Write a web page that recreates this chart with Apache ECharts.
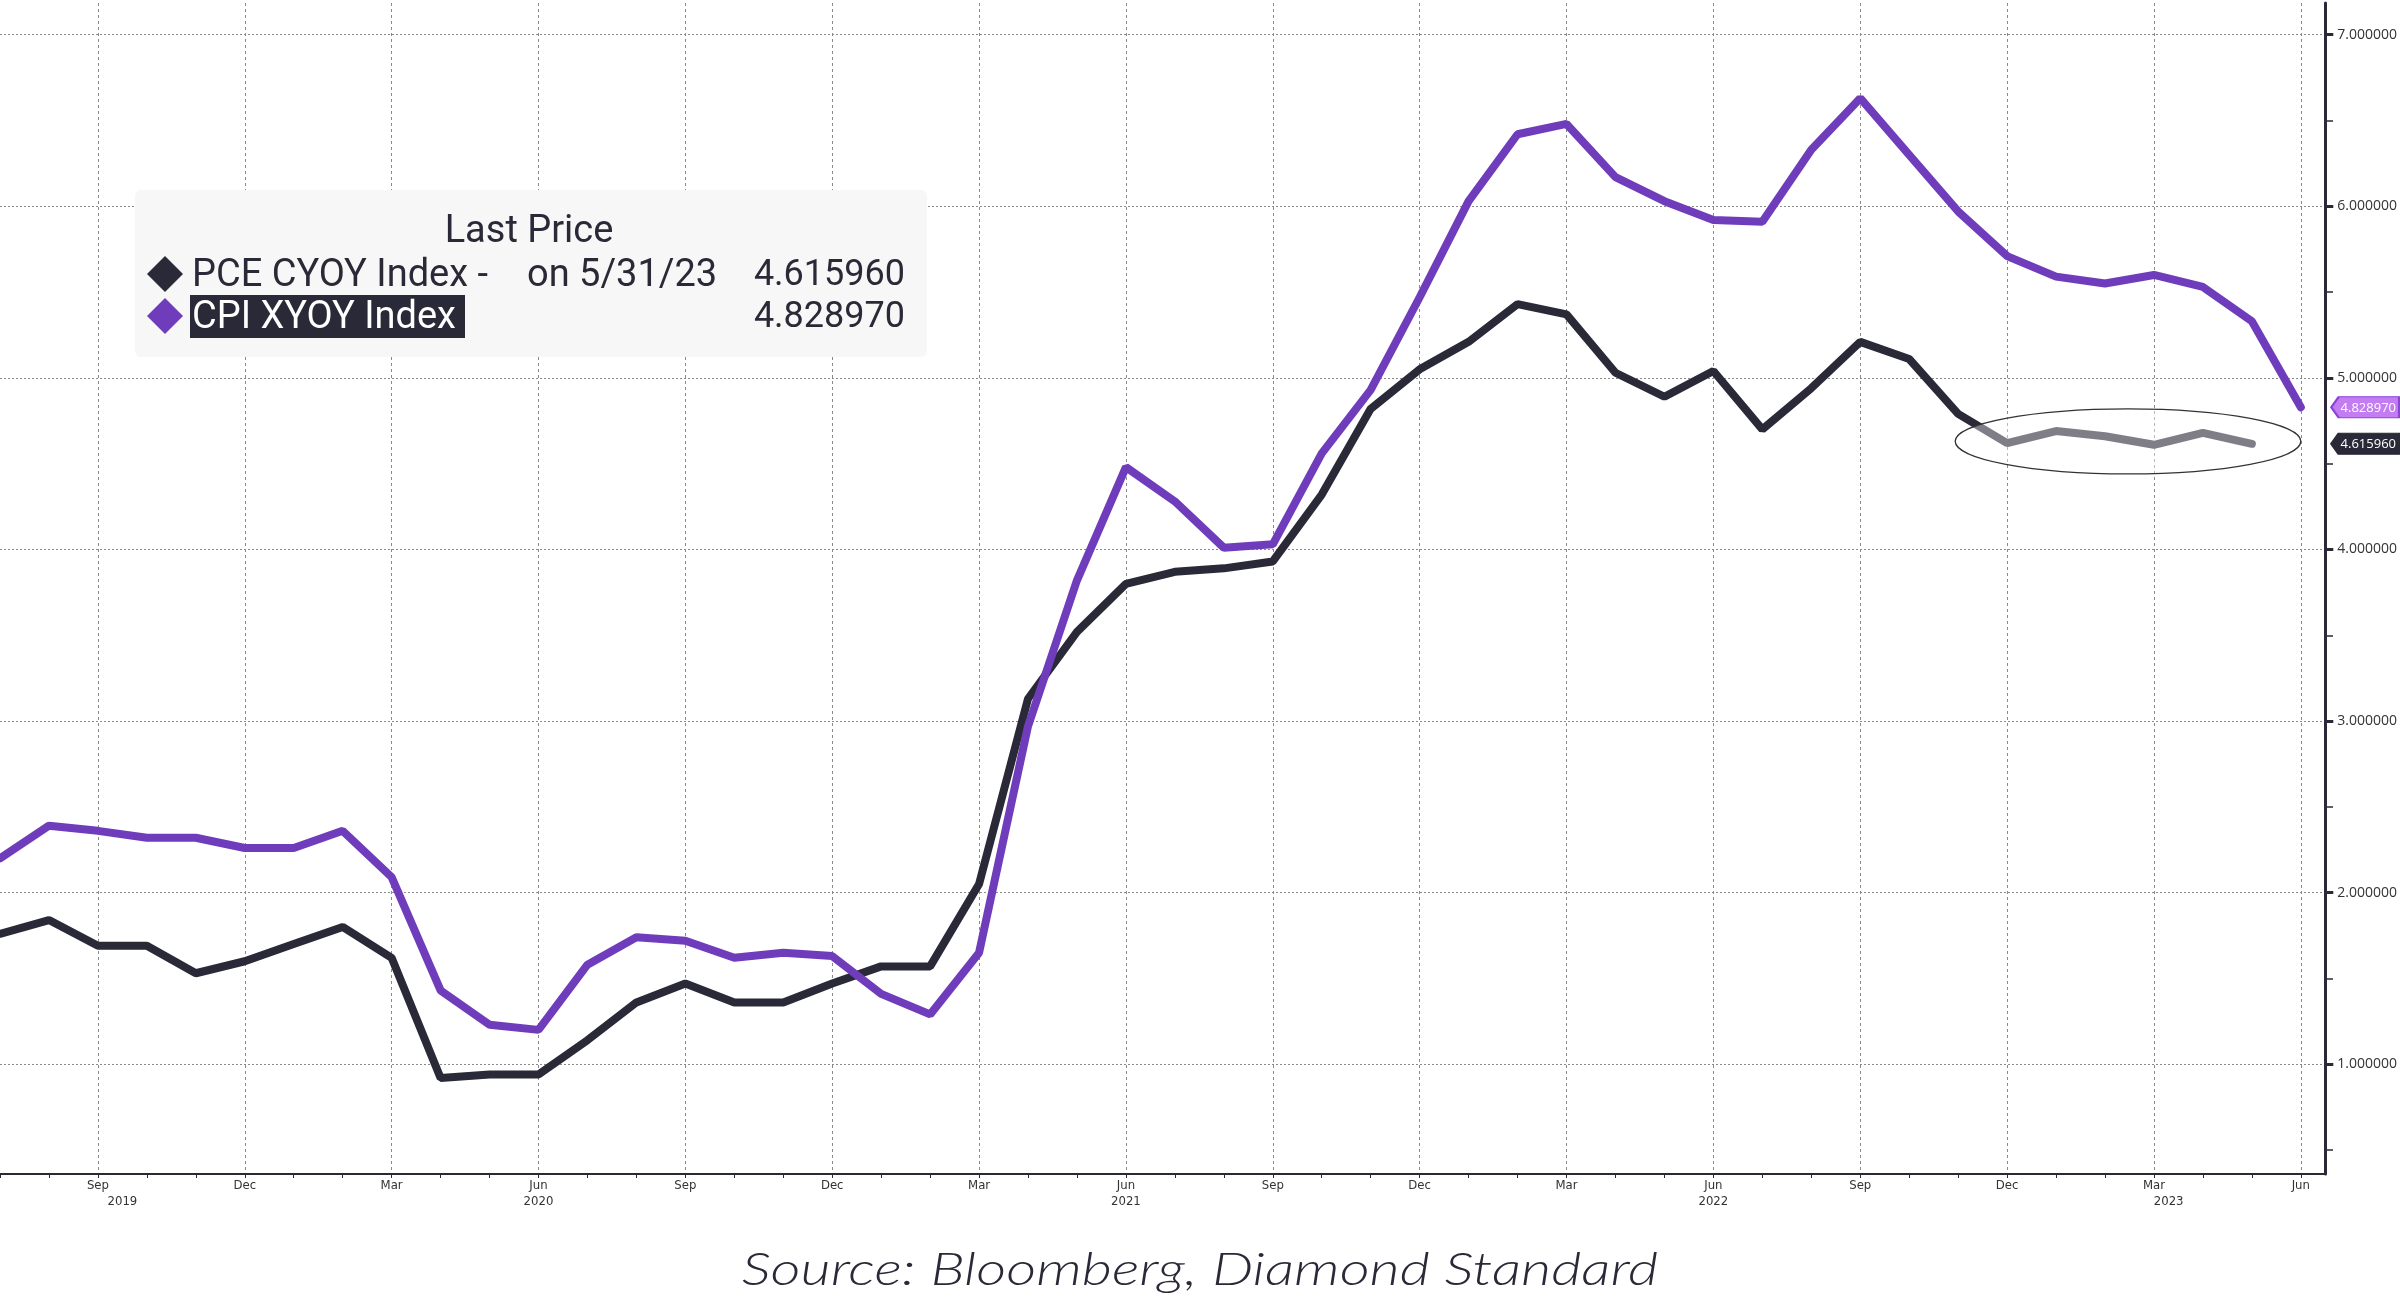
<!DOCTYPE html>
<html><head><meta charset="utf-8">
<script src="https://cdn.jsdelivr.net/npm/echarts@6/dist/echarts.min.js"></script>
<style>html,body{margin:0;padding:0;background:#fff}#c{width:2400px;height:1301px}</style>
</head><body><div id="c"></div>
<script>
// ---- data ----
const months = ['Jul 2019','Aug 2019','Sep 2019','Oct 2019','Nov 2019','Dec 2019',
  'Jan 2020','Feb 2020','Mar 2020','Apr 2020','May 2020','Jun 2020','Jul 2020','Aug 2020','Sep 2020','Oct 2020','Nov 2020','Dec 2020',
  'Jan 2021','Feb 2021','Mar 2021','Apr 2021','May 2021','Jun 2021','Jul 2021','Aug 2021','Sep 2021','Oct 2021','Nov 2021','Dec 2021',
  'Jan 2022','Feb 2022','Mar 2022','Apr 2022','May 2022','Jun 2022','Jul 2022','Aug 2022','Sep 2022','Oct 2022','Nov 2022','Dec 2022',
  'Jan 2023','Feb 2023','Mar 2023','Apr 2023','May 2023','Jun 2023'];
const pce = [1.76,1.84,1.69,1.69,1.53,1.60,1.70,1.80,1.62,0.92,0.94,0.94,1.14,1.36,1.47,1.36,1.36,1.47,1.57,1.57,
  2.05,3.13,3.52,3.80,3.87,3.89,3.93,4.32,4.82,5.05,5.21,5.43,5.37,5.03,4.89,5.04,4.70,4.94,5.21,5.11,
  4.79,4.62,4.69,4.66,4.61,4.68,4.615960];
const cpi = [2.20,2.39,2.36,2.32,2.32,2.26,2.26,2.36,2.09,1.43,1.23,1.20,1.58,1.74,1.72,1.62,1.65,1.63,1.41,1.29,
  1.65,2.97,3.82,4.48,4.28,4.01,4.03,4.56,4.93,5.47,6.03,6.42,6.48,6.17,6.03,5.92,5.91,6.33,6.63,6.30,
  5.97,5.71,5.59,5.55,5.60,5.53,5.33,4.828970];
const yTickValues = [1,2,3,4,5,6,7];
const yMinorValues = [0.5,1.5,2.5,3.5,4.5,5.5,6.5];
const yearLabels = ['2019','2020','2021','2022','2023'];
const yearLabelAt = [2.5,11,23,35,44.3];
const pceName = 'PCE CYOY Index';
const cpiName = 'CPI XYOY Index';
const lastDate = '5/31/23';
const legendTitle = 'Last Price';
const sourceText = 'Source: Bloomberg, Diamond Standard';
// annotation ellipse, in data units
const ellipseCenter = [43.47, 4.63];
const ellipseHalf = [3.53, 0.19];

// ---- derived ----
const quarterIdx = months.map((m,i)=>['Mar','Jun','Sep','Dec'].includes(m.slice(0,3))?i:-1).filter(i=>i>=0);
const monthIdx = months.map((m,i)=>i);
const X_MIN = 0, X_MAX = months.length - 0.5;
const Y_MIN = 0.36, Y_MAX = 7.185;
const DARK = '#2a2937', PURPLE = '#6f3dbb';
const GRID = {left:0, right:73, top:3, bottom:127};

const chart = echarts.init(document.getElementById('c'));
const tagPath = 'path://M0,10L8,0L72,0L72,20L8,20Z';
function tag(val, fill, border){
  return {
    symbol: tagPath, symbolSize:[68,21], symbolOffset:[40,0], symbolKeepAspect:false,
    silent:true,
    itemStyle:{color:fill, borderColor:border, borderWidth:1.5},
    label:{show:true, position:'inside', offset:[3,1], formatter:()=>val.toFixed(6), color:'#fff', fontSize:13, fontFamily:'Open Sans'},
    data:[{coord:[X_MAX, val]}]
  };
}
chart.setOption({
  animation:false,
  backgroundColor:'#fff',
  grid:[Object.assign({}, GRID), Object.assign({}, GRID)],
  xAxis:[
    {type:'value', gridIndex:0, min:X_MIN, max:X_MAX,
     axisLine:{show:true, lineStyle:{color:DARK, width:2}},
     axisTick:{show:true, customValues:quarterIdx, length:4, lineStyle:{color:DARK, width:1}},
     axisLabel:{customValues:quarterIdx, formatter:v=>months[Math.round(v)].slice(0,3), margin:5,
       fontSize:13, color:'#333', fontFamily:'DejaVu Sans Condensed'},
     splitLine:{show:true, lineStyle:{type:[3,3], color:'#8a8a8a', width:1}}},
    {type:'value', gridIndex:0, min:X_MIN, max:X_MAX, position:'bottom',
     axisLine:{show:false},
     axisTick:{show:true, customValues:monthIdx, length:4, lineStyle:{color:DARK, width:1}},
     axisLabel:{customValues:yearLabelAt, formatter:v=>yearLabels[yearLabelAt.indexOf(v)], margin:21,
       fontSize:13, color:'#333', fontFamily:'DejaVu Sans Condensed'},
     splitLine:{show:false}},
    {type:'value', gridIndex:1, min:X_MIN, max:X_MAX, show:false}
  ],
  yAxis:[
    {type:'value', gridIndex:0, position:'right', min:Y_MIN, max:Y_MAX,
     axisLine:{show:true, onZero:false, lineStyle:{color:DARK, width:3}},
     axisTick:{show:true, customValues:yTickValues, length:8, lineStyle:{color:DARK, width:3}},
     axisLabel:{customValues:yTickValues, formatter:v=>v.toFixed(6), margin:12, fontSize:14, color:'#333', fontFamily:'Open Sans'},
     splitLine:{show:true, lineStyle:{type:[2,2], color:'#8a8a8a', width:1}}},
    {type:'value', gridIndex:1, position:'right', min:Y_MIN, max:Y_MAX,
     axisLine:{show:false, onZero:false},
     axisTick:{show:true, customValues:yMinorValues, length:6, lineStyle:{color:DARK, width:1.5}},
     axisLabel:{show:false}, splitLine:{show:false}}
  ],
  series:[
    {name:pceName, type:'line', xAxisIndex:0, yAxisIndex:0, data:pce.map((v,i)=>[i,v]), symbol:'none',
     lineStyle:{color:DARK, width:8, cap:'round'}, z:3, markPoint:tag(pce[pce.length-1], DARK, DARK)},
    {name:cpiName, type:'line', xAxisIndex:0, yAxisIndex:0, data:cpi.map((v,i)=>[i,v]), symbol:'none',
     lineStyle:{color:PURPLE, width:8, cap:'round'}, z:4, markPoint:tag(cpi[cpi.length-1], '#c47cf2', '#8a45d6')}
  ]
});

const c0 = chart.convertToPixel({xAxisIndex:0, yAxisIndex:0}, ellipseCenter);
const c1 = chart.convertToPixel({xAxisIndex:0, yAxisIndex:0}, [ellipseCenter[0]+ellipseHalf[0], ellipseCenter[1]-ellipseHalf[1]]);

const LF = 'Roboto';
const TF = '38px ' + LF, NF = '36px ' + LF;
chart.setOption({
  graphic:[
    {type:'ellipse', z:100, silent:true, shape:{cx:c0[0], cy:c0[1], rx:Math.abs(c1[0]-c0[0]), ry:Math.abs(c1[1]-c0[1])},
     style:{fill:'rgba(255,255,255,0.4)', stroke:'#333', lineWidth:1.3}},
    {type:'group', z:110, silent:true, children:[
      {type:'rect', shape:{x:135, y:190, width:792, height:167, r:6}, style:{fill:'#f7f7f7'}},
      {type:'text', x:529, y:232, style:{text:legendTitle, font:TF, fill:DARK, align:'center', verticalAlign:'middle'}},
      {type:'polygon', shape:{points:[[165,256],[183,274],[165,292],[147,274]]}, style:{fill:DARK}},
      {type:'text', x:192, y:276, style:{text:pceName+' -', font:TF, fill:DARK, align:'left', verticalAlign:'middle'}},
      {type:'text', x:527, y:276, style:{text:'on '+lastDate, font:TF, fill:DARK, align:'left', verticalAlign:'middle'}},
      {type:'text', x:905, y:276, style:{text:pce[pce.length-1].toFixed(6), font:NF, fill:DARK, align:'right', verticalAlign:'middle'}},
      {type:'polygon', shape:{points:[[165,298],[183,316],[165,334],[147,316]]}, style:{fill:PURPLE}},
      {type:'rect', shape:{x:190, y:295, width:275, height:43}, style:{fill:DARK}},
      {type:'text', x:192, y:318, style:{text:cpiName, font:TF, fill:'#fff', align:'left', verticalAlign:'middle'}},
      {type:'text', x:905, y:318, style:{text:cpi[cpi.length-1].toFixed(6), font:NF, fill:DARK, align:'right', verticalAlign:'middle'}}
    ]},
    {type:'text', z:110, x:1200, y:1270, scaleX:1.27, silent:true,
     style:{text:sourceText, font:'italic 300 46px Lato', fill:DARK, align:'center', verticalAlign:'middle'}}
  ]
});
</script></body></html>
